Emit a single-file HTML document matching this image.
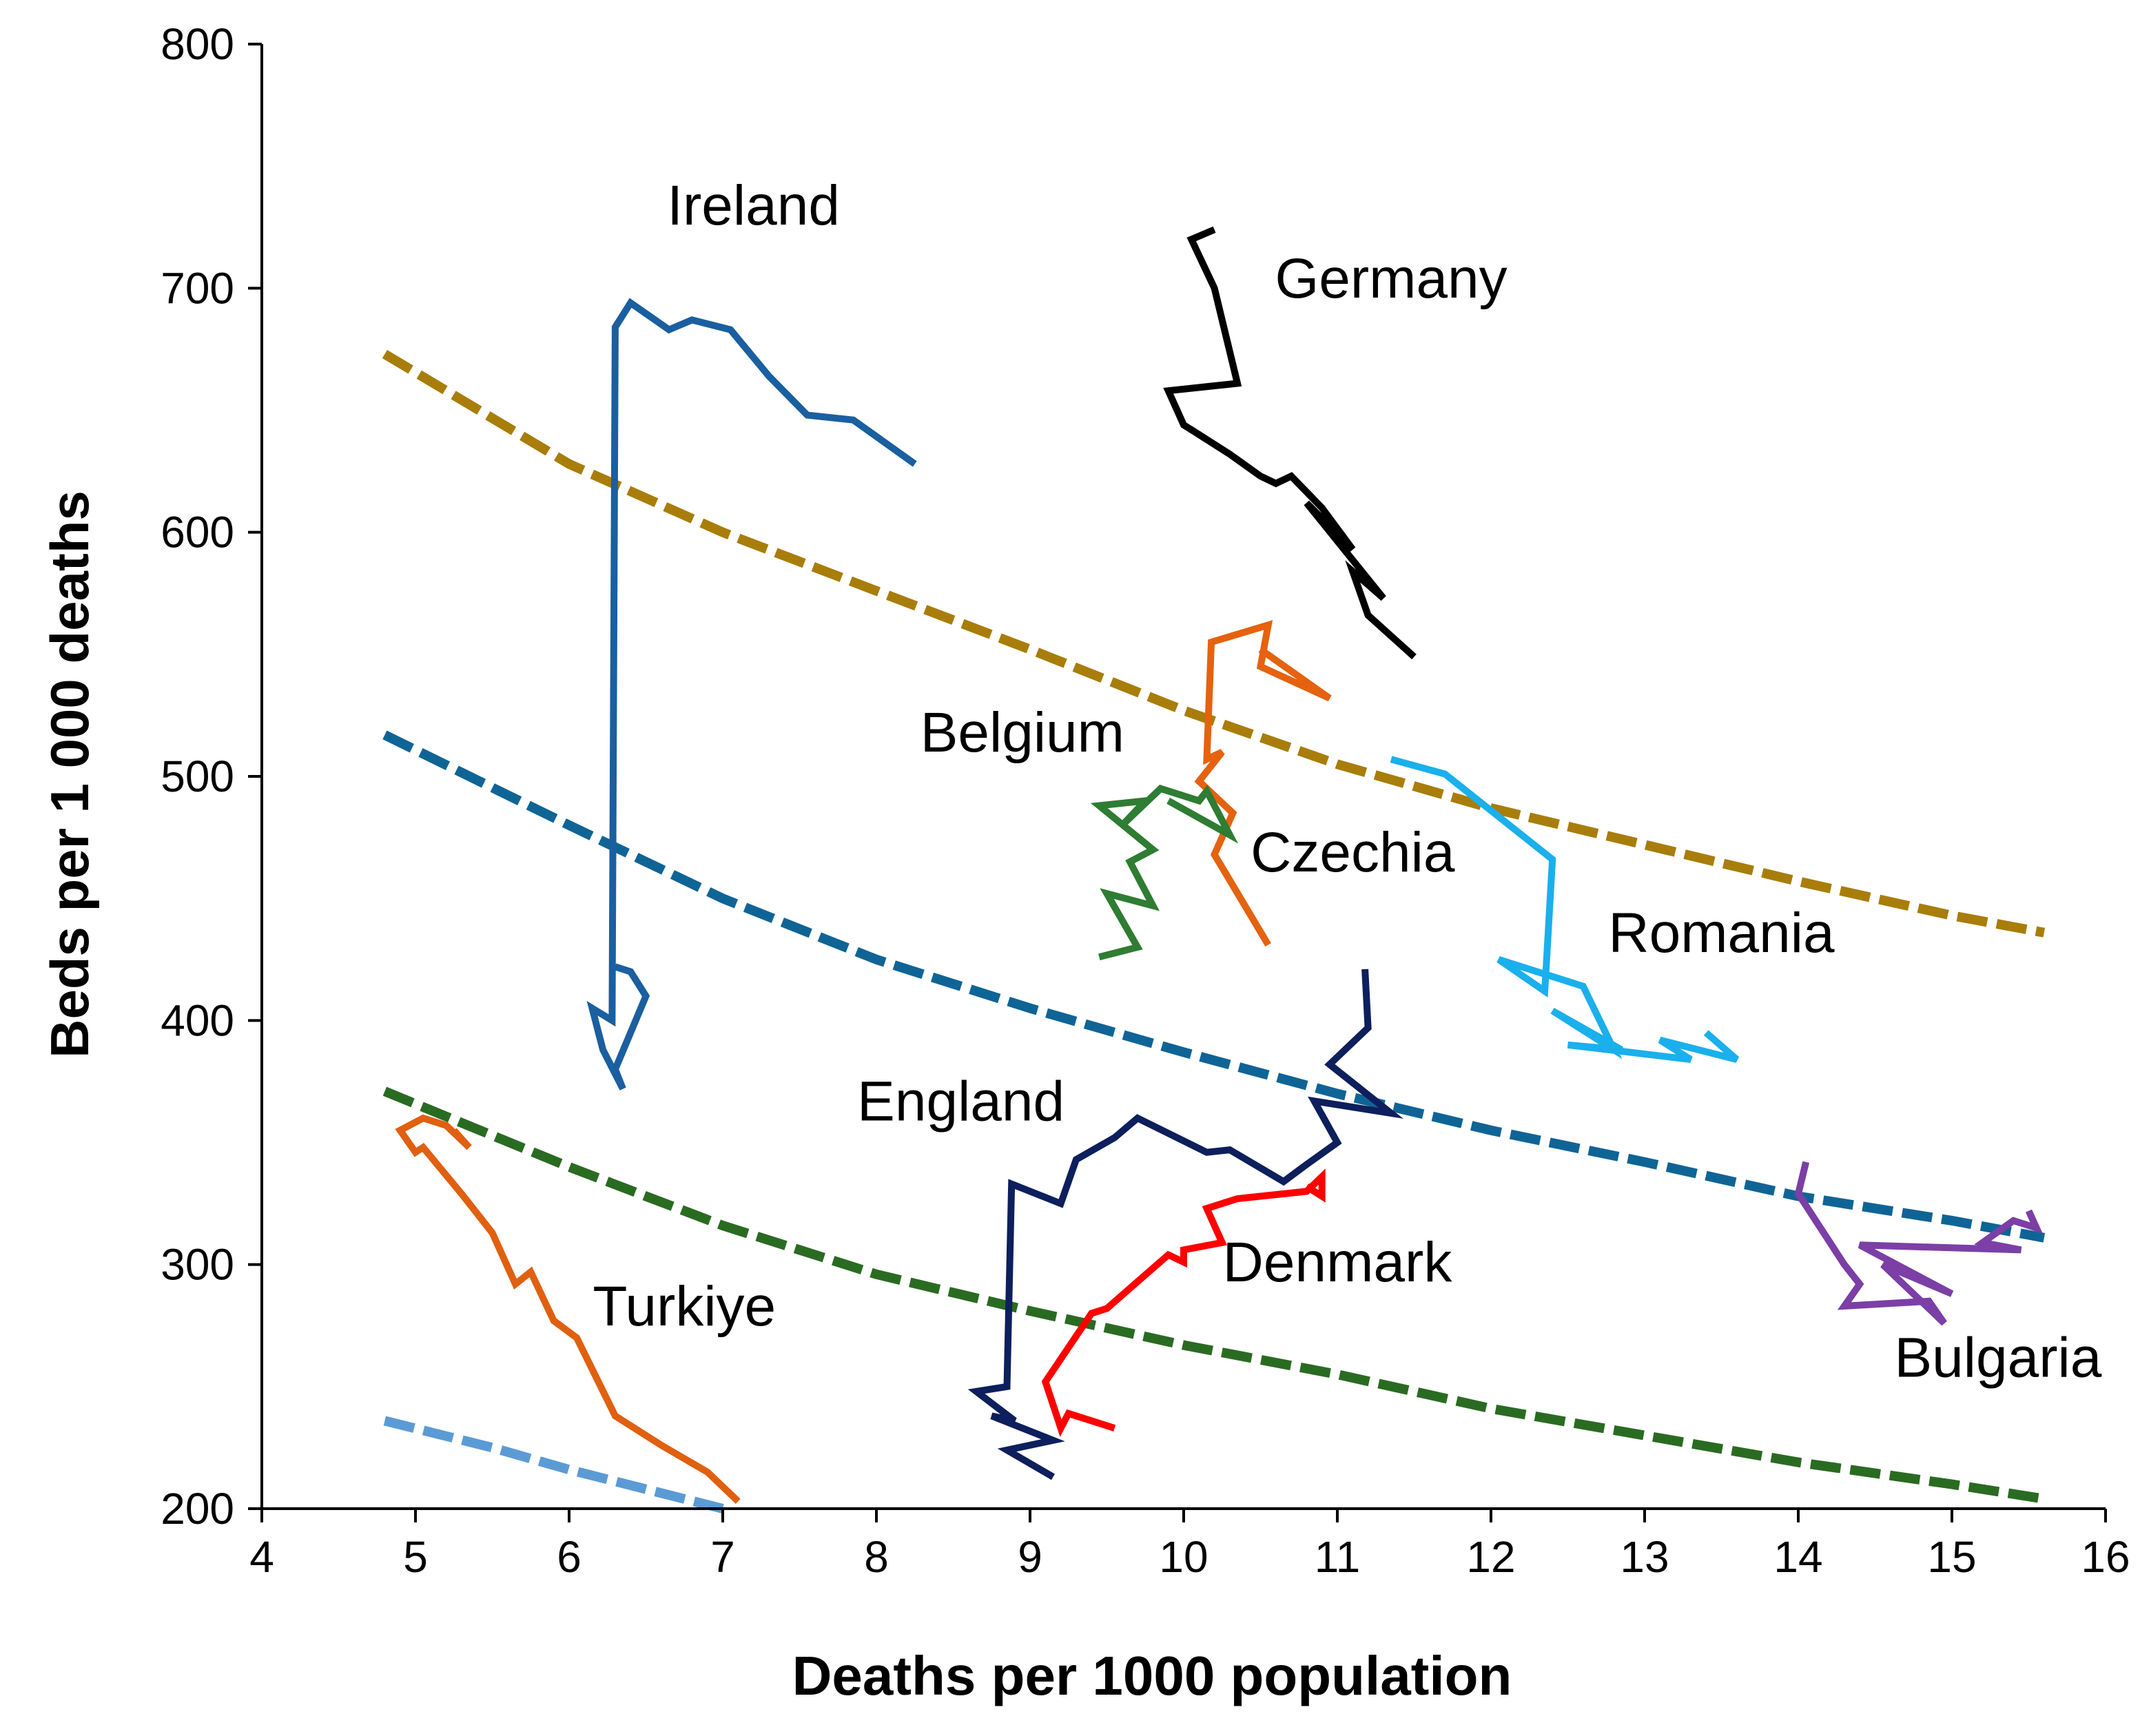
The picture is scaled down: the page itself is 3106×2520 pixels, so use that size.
<!DOCTYPE html>
<html><head><meta charset="utf-8"><style>
html,body{margin:0;padding:0;background:#fff;}
svg{display:block;}
text{font-family:"Liberation Sans",sans-serif;}
</style></head><body>
<svg id="chart" width="3106" height="2520" viewBox="0 0 3106 2520" xmlns="http://www.w3.org/2000/svg">
<g id="refs"></g>
<g id="series"></g>
<g id="axes"></g>
<g id="labels"></g>
<text x="1672" y="2460" font-size="80" font-weight="bold" text-anchor="middle">Deaths per 1000 population</text>
<text transform="translate(128,1124) rotate(-90)" font-size="78" font-weight="bold" text-anchor="middle">Beds per 1 000 deaths</text>
</svg>
<script>
const xTicks=[4,5,6,7,8,9,10,11,12,13,14,15,16];
const yTicks=[200,300,400,500,600,700,800];
const goldCurve=[[4.8,673],[6,628],[7,600],[8,576],[9,552],[10,527],[11,505],[12,487],[13,472],[14,457],[15,443],[15.6,436]];
const blueCurve=[[4.8,517],[6,480],[7,450],[8,425],[9,405],[10,387],[11,370],[12,355],[13,342],[14,328],[15,318],[15.6,311]];
const greenCurve=[[4.8,371],[6,340],[7,316],[8,296],[9,281],[10,267],[11,255],[12,241],[13,230],[14,219],[15,210],[15.6,204]];
const lightCurve=[[4.8,236],[5.5,225],[6,216],[6.5,208],[7,200]];
const ireland=[[8.25,628],[7.85,646],[7.55,648],[7.3,664],[7.05,683],[6.8,687],[6.65,683],[6.4,694],[6.3,684],[6.28,400],[6.15,405],[6.22,388],[6.35,372],[6.3,380],[6.5,410],[6.4,420],[6.3,422]];
const germany=[[10.2,724],[10.05,720],[10.2,700],[10.35,661],[9.9,658],[10.0,644],[10.1,640],[10.3,632],[10.5,623],[10.6,620],[10.7,623],[10.9,610],[11.1,593],[10.8,612],[11.3,573],[11.1,584],[11.2,566],[11.5,549]];
const belgium=[[10.55,431],[10.2,468],[10.32,485],[10.1,498],[10.25,510],[10.15,507],[10.18,555],[10.55,562],[10.5,545],[10.95,532],[10.5,552]];
const czechia=[[9.45,426],[9.7,430],[9.5,452],[9.8,447],[9.65,465],[9.8,470],[9.45,488],[9.75,490],[9.6,480],[9.85,495],[10.1,490],[10.15,494],[10.3,476],[9.9,490]];
const romania=[[11.35,507],[11.7,501],[12.4,466],[12.35,412],[12.05,425],[12.6,414],[12.8,388],[12.4,404],[12.85,388],[12.5,390],[13.3,384],[13.1,392],[13.6,384],[13.4,395]];
const england=[[9.15,213],[8.85,224],[9.15,228],[8.75,238],[8.9,236],[8.65,248],[8.85,250],[8.88,333],[9.2,325],[9.3,343],[9.55,352],[9.7,360],[10.15,346],[10.3,347],[10.65,334],[10.8,341],[11.0,350],[10.85,367],[11.35,362],[10.95,382],[11.2,397],[11.18,421]];
const denmark=[[9.55,233],[9.25,239],[9.2,233],[9.1,252],[9.4,280],[9.5,282],[9.9,304],[10.0,301],[10.0,306],[10.25,309],[10.15,323],[10.35,327],[10.8,330],[10.9,336],[10.9,328],[10.8,332]];
const bulgaria=[[14.05,342],[14.0,329],[14.3,300],[14.4,292],[14.3,283],[14.85,285],[14.95,276],[14.55,300],[15.0,288],[14.4,308],[15.45,306],[15.2,309],[15.4,318],[15.55,315],[15.5,322]];
const turkiye=[[7.1,203],[6.9,215],[6.6,226],[6.3,238],[6.05,270],[5.9,277],[5.75,297],[5.65,292],[5.5,313],[5.3,329],[5.05,348],[5.0,346],[4.9,355],[5.05,360],[5.2,357],[5.35,348],[5.25,355]];
const labelNames=["Ireland","Germany","Belgium","Czechia","Romania","England","Denmark","Turkiye","Bulgaria"];
const labelPos=[[7.2,734],[11.35,704],[8.95,518],[11.1,469],[13.5,436],[8.55,367],[11.0,301],[6.75,283],[15.3,262]];

const NS="http://www.w3.org/2000/svg";
const X0=380,X1=3056,Y0=2190,Y1=64;
function sx(v){return X0+(v-4)/12*(X1-X0);}
function sy(v){return Y0-(v-200)/600*(Y0-Y1);}
function mk(t,p,a){const e=document.createElementNS(NS,t);for(const k in a)e.setAttribute(k,a[k]);p.appendChild(e);return e;}
function pts(d){return d.map(p=>sx(p[0]).toFixed(1)+","+sy(p[1]).toFixed(1)).join(" ");}

const refs=document.getElementById('refs');
[[goldCurve,'#a87d0a','gold'],[blueCurve,'#0f6496','blue'],[greenCurve,'#2a6b22','green'],[lightCurve,'#5b9bd5','light-blue']].forEach(c=>{
 const e=mk('polyline',refs,{points:pts(c[0]),fill:'none',stroke:c[1],'stroke-width':14,'stroke-dasharray':'44 14'});
 
 
});
const ser=document.getElementById('series');
[[ireland,'#1a5fa0','ireland'],[germany,'#000','germany'],[belgium,'#e5620f','belgium'],[czechia,'#2e7d32','czechia'],[romania,'#1ab0ec','romania'],[england,'#0d1f5c','england'],[denmark,'#ff0000','denmark'],[bulgaria,'#7b3fa6','bulgaria'],[turkiye,'#e06010','turkiye']].forEach(c=>{
 const e=mk('polyline',ser,{points:pts(c[0]),fill:'none',stroke:c[1],'stroke-width':10,'stroke-linejoin':'miter'});
 
 
});
const ax=document.getElementById('axes');
let e=mk('line',ax,{x1:X0,y1:Y1,x2:X0,y2:Y0,stroke:'#000','stroke-width':4});


e=mk('line',ax,{x1:X0,y1:Y0,x2:X1,y2:Y0,stroke:'#000','stroke-width':4});


xTicks.forEach(v=>{
 mk('line',ax,{x1:sx(v),y1:Y0,x2:sx(v),y2:Y0+20,stroke:'#000','stroke-width':4});
 const t=mk('text',ax,{x:sx(v),y:Y0+92,'font-size':64,'text-anchor':'middle'});t.textContent=v;
 
 
});
yTicks.forEach(v=>{
 mk('line',ax,{x1:X0-20,y1:sy(v),x2:X0,y2:sy(v),stroke:'#000','stroke-width':4});
 const t=mk('text',ax,{x:X0-40,y:sy(v)+22,'font-size':64,'text-anchor':'end'});t.textContent=v;
 
 
});
const lab=document.getElementById('labels');
labelNames.forEach((n,i)=>{
 const t=mk('text',lab,{x:sx(labelPos[i][0]),y:sy(labelPos[i][1])+28,'font-size':82,'text-anchor':'middle'});t.textContent=n;
 
 
});
</script>
</body></html>
